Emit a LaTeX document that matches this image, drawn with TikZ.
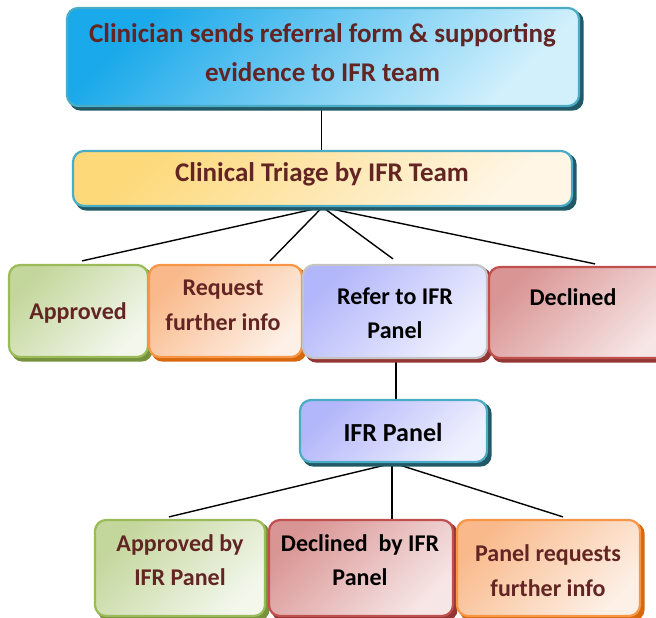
\documentclass[tikz,border=0pt]{standalone}
\usepackage{fontspec}
\setmainfont{Carlito}
\usetikzlibrary{backgrounds,calc}
\definecolor{txtBrown}{HTML}{632523}
\definecolor{blueA}{HTML}{1AA9EA}
\definecolor{blueB}{HTML}{D2F0FC}
\definecolor{yelA}{HTML}{FDD97A}
\definecolor{yelB}{HTML}{FFF6E6}
\definecolor{grnA}{HTML}{C3D69B}
\definecolor{grnB}{HTML}{F3F7EC}
\definecolor{orgA}{HTML}{F9B98A}
\definecolor{orgB}{HTML}{FDF0E6}
\definecolor{lavA}{HTML}{B2B6FA}
\definecolor{lavB}{HTML}{F0F1FE}
\definecolor{redA}{HTML}{D99594}
\definecolor{redB}{HTML}{F7E6E6}
\definecolor{bdTeal}{HTML}{4BACC6}
\definecolor{bdGreen}{HTML}{9BBB59}
\definecolor{bdOrange}{HTML}{F79646}
\definecolor{bdRed}{HTML}{C0504D}
\definecolor{bdGray}{HTML}{C4C4C4}
\definecolor{shTeal}{HTML}{215967}
\definecolor{shGreen}{HTML}{76923C}
\definecolor{shOrange}{HTML}{D8680C}
\definecolor{shRed}{HTML}{943634}
\newcommand{\boxshadow}[2]{\fill[#2, rounded corners=11pt] ($(#1.north west)+(3.5,3.5)$) rectangle ($(#1.south east)+(3.5,3.5)$);}
\begin{document}
\begin{tikzpicture}[x=1pt,y=-1pt,
  box/.style={rounded corners=11pt, line width=2.2pt, inner sep=0pt},
  bluebox/.style={box, draw=bdTeal, top color=blueA, bottom color=blueB, shading angle=45},
  yelbox/.style={box, draw=bdTeal, top color=yelA, bottom color=yelB, shading angle=45},
  grnbox/.style={box, draw=bdGreen, top color=grnA, bottom color=grnB, shading angle=45},
  orgbox/.style={box, draw=bdOrange, top color=orgA, bottom color=orgB, shading angle=45},
  lavbox/.style={box, draw=bdTeal, top color=lavA, bottom color=lavB, shading angle=45},
  lavboxr/.style={box, draw=bdGray, top color=lavA, bottom color=lavB, shading angle=45},
  redbox/.style={box, draw=bdRed, top color=redA, bottom color=redB, shading angle=45},
  big/.style={align=center, inner sep=0pt, font=\bfseries\fontsize{27}{39}\selectfont},
  mid/.style={align=center, inner sep=0pt, font=\bfseries\fontsize{24}{34.5}\selectfont},
  ifrfont/.style={align=center, inner sep=0pt, font=\bfseries\fontsize{26}{30}\selectfont},
  conn/.style={line width=1.4pt, draw=black}]
\useasboundingbox (0,0) rectangle (656,618);

% boxes
\node[bluebox, minimum width=512pt, minimum height=98pt] (top) at (323,57) {};
\node[yelbox, minimum width=499pt, minimum height=55pt] (triage) at (322.5,178.5) {};
\node[grnbox, minimum width=139pt, minimum height=92pt] (approved) at (78.5,311) {};
\node[orgbox, minimum width=153pt, minimum height=92pt] (request) at (225.5,311) {};
\node[lavboxr, minimum width=184pt, minimum height=93pt] (refer) at (395,311.5) {};
\node[redbox, minimum width=183pt, minimum height=91pt] (declined) at (580.5,312.5) {};
\node[lavbox, minimum width=187pt, minimum height=62pt] (ifr) at (393.5,431) {};
\node[grnbox, minimum width=170pt, minimum height=96pt] (appby) at (180,568) {};
\node[redbox, minimum width=184pt, minimum height=96pt] (decby) at (361,568) {};
\node[orgbox, minimum width=183pt, minimum height=96pt] (panreq) at (548.5,568) {};

% texts
\node[big, text=txtBrown] (tTop) at (322.5,52.5) {Clinician sends referral form \& supporting\\evidence to IFR team};
\node[big, text=txtBrown] (tTriage) at (322,174) {Clinical Triage by IFR Team};
\node[mid, text=txtBrown] (tApp) at (78,313) {Approved};
\node[mid, text=txtBrown] (tReq) at (223,305.5) {Request\\further info};
\node[mid, text=black] (tRef) at (395,313) {Refer to IFR\\Panel};
\node[mid, text=black] (tDec) at (573,297) {Declined};
\node[ifrfont, text=black] (tIFR) at (393,432) {IFR Panel};
\node[mid, text=txtBrown] (tAppBy) at (180,560) {Approved by\\IFR Panel};
\node[mid, text=black] (tDecBy) at (360,560) {Declined\ \ by IFR\\Panel};
\node[mid, text=txtBrown] (tPanReq) at (548,570.5) {Panel requests\\further info};

% connector ends
\coordinate (c1a) at ($(top.south)+(-1.5,0)$);
\coordinate (c1b) at (c1a |- triage.north);
\coordinate (c2a) at ($(refer.south)+(1,0)$);
\coordinate (c2b) at (c2a |- ifr.north);
\coordinate (c3a) at ($(ifr.south)+(-1.5,0)$);
\coordinate (c3b) at (c3a |- decby.north);

\begin{scope}[on background layer]
% connectors
\draw[conn] (c1a) -- (c1b);
\draw[conn] (triage.south) -- ($(approved.north)+(3.5,-3)$);
\draw[conn] (triage.south) -- ($(request.north)+(44.5,-3)$);
\draw[conn] (triage.south) -- ($(refer.north)+(-2,-5)$);
\draw[conn] (triage.south) -- ($(declined.north)+(14.5,-2)$);
\draw[conn] (c2a) -- (c2b);
\draw[conn] (ifr.south) -- ($(appby.north)+(-11,-2)$);
\draw[conn] (c3a) -- (c3b);
\draw[conn] (ifr.south) -- ($(panreq.north)+(14.5,-2)$);
% shadows
\boxshadow{top}{shTeal}
\boxshadow{triage}{shTeal}
\boxshadow{approved}{shGreen}
\boxshadow{request}{shOrange}
\boxshadow{refer}{shRed}
\boxshadow{declined}{shRed}
\boxshadow{ifr}{shTeal}
\boxshadow{appby}{shGreen}
\boxshadow{decby}{shRed}
\boxshadow{panreq}{shOrange}
\end{scope}
\end{tikzpicture}
\end{document}
